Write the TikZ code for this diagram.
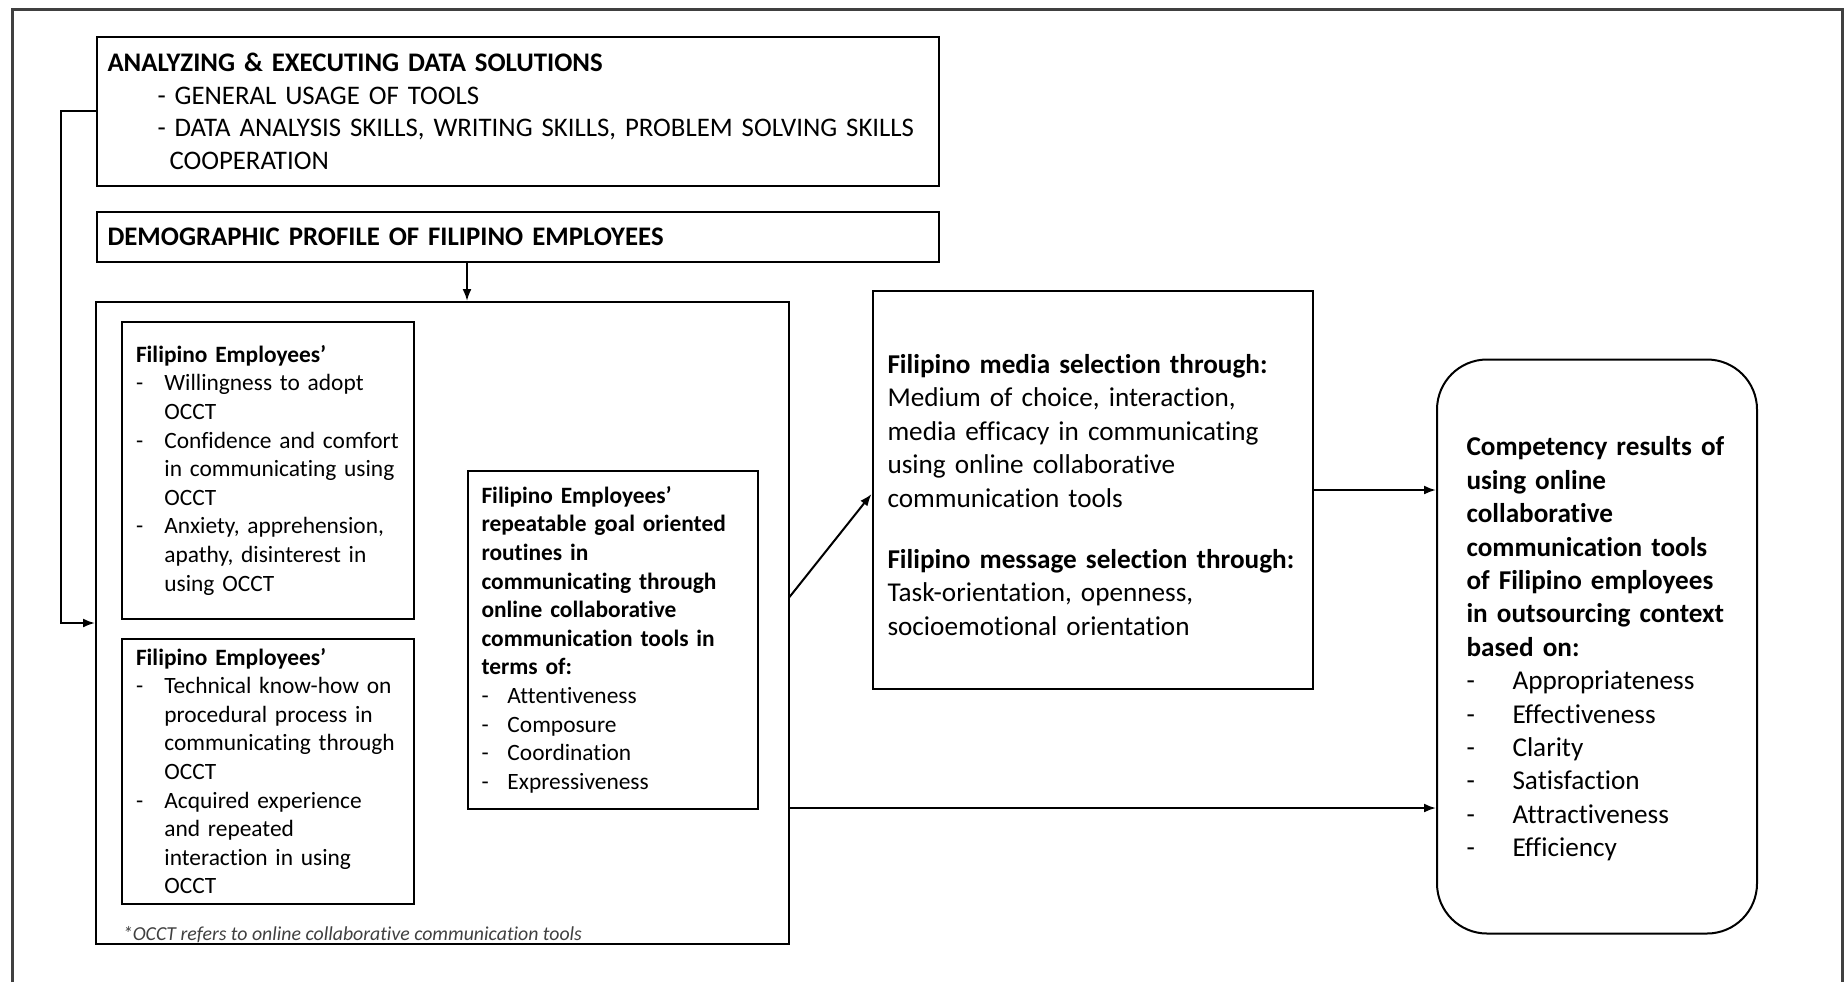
\documentclass[tikz,border=0pt]{standalone}
\usepackage{fontspec}
\setmainfont{Carlito}[Ligatures={TeX,NoCommon}]
\usetikzlibrary{arrows.meta}
\setlength\parindent{0pt}
% list entry with a dash and a hanging indent
\newcommand\hitem[2]{\par\noindent\hangindent=#1\hangafter=1\makebox[#1][l]{-}#2}
\begin{document}
\begin{tikzpicture}[x=0.5pt,y=-0.5pt,
  box/.style={draw, line width=1pt, align=left, inner ysep=0pt, anchor=center},
  txt/.style={align=left, inner ysep=0pt, inner xsep=0pt, anchor=center},
  bigtext/.style={font=\fontsize{13.4}{16.35}\selectfont},
  smalltext/.style={font=\fontsize{11.7}{14.3}\selectfont},
  midtext/.style={font=\fontsize{13.6}{16.7}\selectfont},
  conn/.style={line width=1pt, -{Latex[length=6pt,width=4.5pt]}},
  frame/.style={line width=1.5pt, draw=black!75}]

\useasboundingbox (0,0) rectangle (1847,982);

% outer frame, open at the bottom
\draw[frame] (12,982) -- (12,9) -- (1842,9) -- (1842,982);

% top boxes
\node[box, bigtext, minimum width=421.25pt, minimum height=74.75pt,
      inner xsep=5.5pt, text width=410.25pt] (A) at (517.75,111.25)
  {\mbox{\textbf{ANALYZING \& EXECUTING DATA SOLUTIONS}}\par
   \hspace*{25pt}\mbox{- GENERAL USAGE OF TOOLS}\par
   \hspace*{25pt}\mbox{- DATA ANALYSIS SKILLS, WRITING SKILLS, PROBLEM SOLVING SKILLS}\par
   \hspace*{31pt}\mbox{COOPERATION}\par};

\node[box, bigtext, minimum width=421.25pt, minimum height=24.75pt,
      inner xsep=5.5pt, text width=410.25pt] (B) at (517.75,236.75)
  {\mbox{\textbf{DEMOGRAPHIC PROFILE OF FILIPINO EMPLOYEES}}\par};

% container of the employee factors
\node[box, minimum width=346.25pt, minimum height=321pt] (C) at (442.25,623) {};

\node[box, smalltext, minimum width=146pt, minimum height=148.4pt,
      inner xsep=7.25pt, text width=131.5pt] (D1) at (267.5,470.1)
  {\textbf{Filipino Employees'}
   \hitem{14.2pt}{\mbox{Willingness to adopt}\newline OCCT}
   \hitem{14.2pt}{\mbox{Confidence and comfort}\newline \mbox{in communicating using}\newline OCCT}
   \hitem{14.2pt}{\mbox{Anxiety, apprehension,}\newline \mbox{apathy, disinterest in}\newline using OCCT}\par};

\node[box, smalltext, minimum width=146pt, minimum height=132.5pt,
      inner xsep=7.25pt, text width=131.5pt] (D2) at (267.5,771)
  {\textbf{Filipino Employees'}
   \hitem{14.2pt}{\mbox{Technical know-how on}\newline \mbox{procedural process in}\newline \mbox{communicating through}\newline OCCT}
   \hitem{14.2pt}{\mbox{Acquired experience}\newline and repeated\newline \mbox{interaction in using}\newline OCCT}\par};

\node[box, smalltext, minimum width=145.25pt, minimum height=169.25pt,
      inner xsep=7pt, text width=131.25pt] (E) at (612.75,639.75)
  {\textbf{\mbox{Filipino Employees'}\newline \mbox{repeatable goal oriented}\newline routines in\newline
   \mbox{communicating through}\newline \mbox{online collaborative}\newline
   \mbox{communication tools in}\newline terms of:}
   \hitem{13pt}{Attentiveness}
   \hitem{13pt}{Composure}
   \hitem{13pt}{Coordination}
   \hitem{13pt}{Expressiveness}\par};

\node[anchor=base west, inner sep=0pt, text=black!75,
      font=\fontsize{9.9}{12}\selectfont\itshape] (note) at (122.5,940)
  {*OCCT refers to online collaborative communication tools};

% media and message selection
\node[box, minimum width=220.25pt, minimum height=199pt] (F) at (1092.75,490) {};
\node[txt, midtext, text width=205.25pt] (Ft) at ([yshift=-2.5pt]F.center)
  {\mbox{\textbf{Filipino media selection through:}}\newline
   \mbox{Medium of choice, interaction,}\newline
   \mbox{media efficacy in communicating}\newline
   \mbox{using online collaborative}\newline
   \mbox{communication tools}\par\vspace{14pt}
   \mbox{\textbf{Filipino message selection through:}}\newline
   \mbox{Task-orientation, openness,}\newline
   \mbox{socioemotional orientation}\par};

% competency results
\node[box, rounded corners=25pt, minimum width=160pt, minimum height=287pt] (G) at (1597,646.5) {};
\node[txt, midtext, text width=130.5pt] (Gt) at ([yshift=-1.2pt]G.center)
  {\textbf{\mbox{Competency results of}\newline \mbox{using online}\newline \mbox{collaborative}\newline
   \mbox{communication tools}\newline \mbox{of Filipino employees}\newline
   \mbox{in outsourcing context}\newline \mbox{based on:}}
   \hitem{23pt}{Appropriateness}
   \hitem{23pt}{Effectiveness}
   \hitem{23pt}{Clarity}
   \hitem{23pt}{Satisfaction}
   \hitem{23pt}{Attractiveness}
   \hitem{23pt}{Efficiency}\par};

% connectors
\coordinate (fb) at (60.5,0);
\coordinate (bc) at (467,0);
\coordinate (lo) at (0,808);

\draw[conn] (A.west) -| (fb |- C.west) -- (C.west);
\draw[conn] (bc |- B.south) -- (bc |- C.north);
\draw[conn] ([yshift=13pt]C.east) -- ([yshift=-2pt]F.west);
\draw[conn] (F.east) -- (F.east -| G.west);
\draw[conn] (lo -| C.east) -- (lo -| G.west);

\end{tikzpicture}
\end{document}
